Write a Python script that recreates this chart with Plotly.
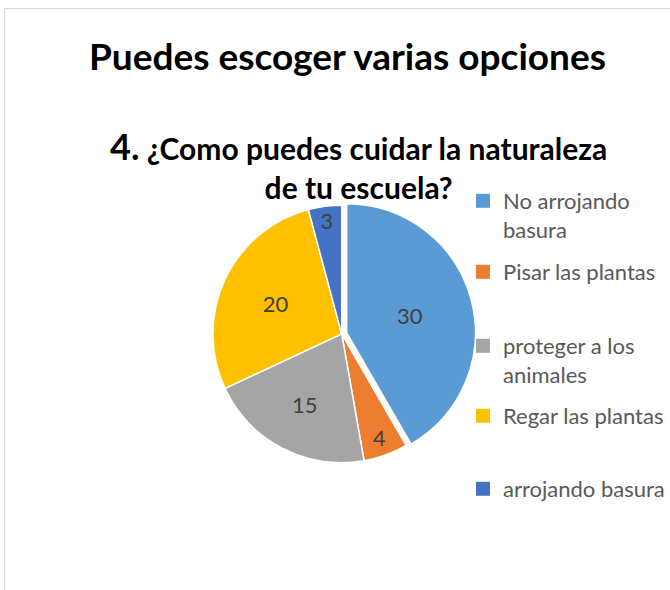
import plotly.graph_objects as go

labels = ["No arrojando<br>basura", "Pisar las plantas", "proteger a los<br>animales",
          "Regar las plantas", "arrojando basura"]
values = [30, 4, 15, 20, 3]
colors = ["#5B9BD5", "#ED7D31", "#A5A5A5", "#FFC000", "#4472C4"]
pulls = [0.04, 0, 0, 0, 0]

title_main = "Puedes escoger varias opciones"
title_sub = "<span style='font-size:36px'>4.</span> ¿Como puedes cuidar la naturaleza<br>de tu escuela?"

# first-line centres of legend entries (px from top), styling only
legend_line_y = [200, 271, 345, 415, 488]

FONT = "Lato"
W, H = 670, 590

fig = go.Figure()
fig.add_trace(go.Pie(
    labels=labels, values=values, sort=False, direction="clockwise", rotation=0,
    pull=pulls, showlegend=False,
    marker=dict(colors=colors, line=dict(color="white", width=1.5)),
    textinfo="value", textposition="inside", insidetextorientation="horizontal",
    textfont=dict(family=FONT, size=22, color="#404040"),
    domain=dict(x=[0.3085, 0.7115], y=[0.207, 0.661]),
    hovertext=[l.replace("<br>", " ") for l in labels], hoverinfo="text+value",
))

legend_layouts = {}
for i, (lab, col) in enumerate(zip(labels, colors)):
    name = "legend" if i == 0 else f"legend{i + 1}"
    fig.add_trace(go.Scatter(
        x=[None], y=[None], mode="markers", name=lab,
        marker=dict(symbol="square", size=14, color=col),
        legend=name, showlegend=True, hoverinfo="skip",
    ))
    legend_layouts[name] = dict(
        x=(503 - 40) / W, xanchor="left",
        y=1 - (legend_line_y[i] - 20) / H, yanchor="top",
        valign="top",
        font=dict(family=FONT, size=22, color="#595959"),
        bgcolor="rgba(0,0,0,0)",
    )

fig.update_layout(
    width=W, height=H,
    margin=dict(l=0, r=0, t=0, b=0),
    paper_bgcolor="white", plot_bgcolor="white",
    font=dict(family=FONT),
    xaxis=dict(visible=False), yaxis=dict(visible=False),
    title=dict(text="<b>" + title_main + "</b>", x=347.5 / W, xanchor="center",
               y=1 - 57 / H, yanchor="middle",
               font=dict(family=FONT, size=37, color="black")),
    annotations=[dict(text="<b>" + title_sub + "</b>", x=358 / W, y=1 - 164 / H,
                      xref="paper", yref="paper", xanchor="center", yanchor="middle",
                      showarrow=False, align="center",
                      font=dict(family=FONT, size=30, color="black"))],
    shapes=[dict(type="rect", xref="paper", yref="paper",
                 x0=4.5 / W, x1=1.2, y0=-0.2, y1=1 - 8.5 / H,
                 line=dict(color="#D9D9D9", width=1), fillcolor="rgba(0,0,0,0)")],
    **legend_layouts,
)

fig.write_html("out.html", config={"displayModeBar": False},
               post_script="document.body.style.margin='0';")
